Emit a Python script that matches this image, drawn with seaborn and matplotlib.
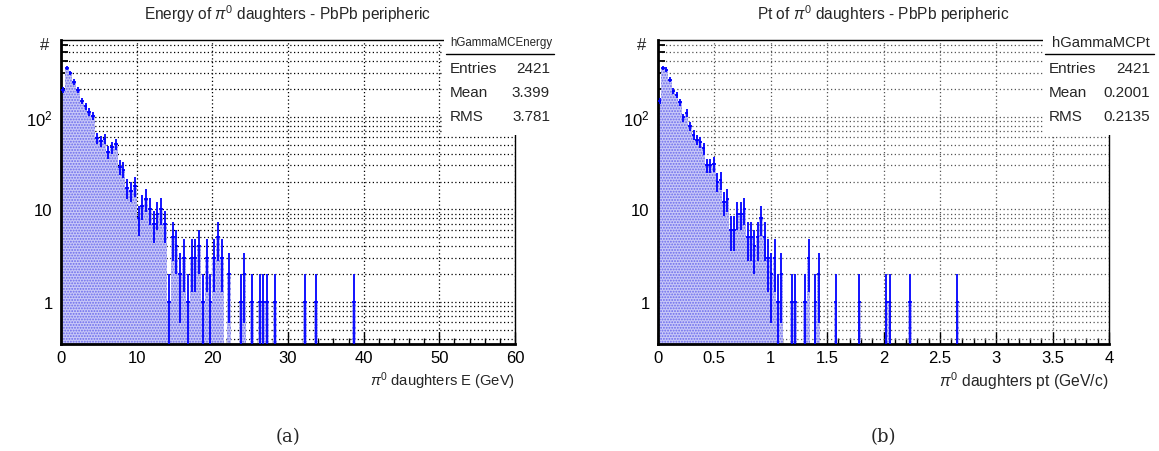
import numpy as np
import pandas as pd
import matplotlib
matplotlib.use("Agg")
import matplotlib.pyplot as plt
import seaborn as sns
from matplotlib.ticker import FixedLocator, FuncFormatter, MultipleLocator, LogLocator, NullFormatter
from matplotlib.patches import Rectangle
from matplotlib.lines import Line2D

# ---------------- data ----------------
# Panel (a): energy histogram, 0.5 GeV bins starting at 0
energy_bin_width = 0.5
energy_counts = [196, 339, 299, 239, 196, 149, 131, 113, 102, 59,
                 55, 58, 42, 47, 51, 29, 27, 17, 16, 18,
                 8, 11, 13, 10, 7, 9, 10, 7, 1, 5,
                 4, 2, 3, 1, 3, 3, 4, 1, 3, 1,
                 3, 5, 3, 0, 2, 0, 0, 1, 2, 0,
                 1, 0, 1, 1, 1, 0, 1, 0, 0, 0,
                 0, 0, 0, 0, 1, 0, 0, 1, 0, 0,
                 0, 0, 0, 0, 0, 0, 0, 1]
# Panel (b): pt histogram, 0.03 GeV/c bins starting at 0
pt_bin_width = 0.03
pt_counts = [150, 340, 325, 252, 192, 172, 145, 99, 111, 80,
             64, 57, 54, 46, 30, 30, 31, 20, 21, 12,
             13, 6, 6, 9, 9, 10, 5, 5, 4, 5,
             8, 5, 3, 2, 3, 1, 2, 0, 0, 1,
             1, 0, 0, 1, 3, 0, 1, 2, 0, 0,
             0, 0, 1, 0, 0, 0, 0, 0, 0, 1,
             0, 0, 0, 0, 0, 0, 0, 1, 1, 0,
             0, 0, 0, 0, 1, 0, 0, 0, 0, 0,
             0, 0, 0, 0, 0, 0, 0, 0, 1]

titles = [r"Energy of $\pi^{0}$ daughters - PbPb peripheric",
          r"Pt of $\pi^{0}$ daughters - PbPb peripheric"]
xlabels = [r"$\pi^{0}$ daughters E (GeV)", r"$\pi^{0}$ daughters pt (GeV/c)"]
hist_names = ["hGammaMCEnergy", "hGammaMCPt"]
stat_labels = ["Entries", "Mean", "RMS"]
stats_a = ["2421", "3.399", "3.781"]
stats_b = ["2421", "0.2001", "0.2135"]
captions = ["(a)", "(b)"]
xticks_a = [0, 10, 20, 30, 40, 50, 60]
xticks_b = [0, 0.5, 1, 1.5, 2, 2.5, 3, 3.5, 4]
yticks = [1, 10, 100]
ytick_labels = ["1", "10", r"10$^{2}$"]

# ---------------- style ----------------
sns.set_theme(style="white")
plt.rcParams['font.family'] = ['Liberation Sans', 'DejaVu Sans']
plt.rcParams['mathtext.fontset'] = 'custom'
plt.rcParams['mathtext.rm'] = 'Liberation Sans'
plt.rcParams['mathtext.it'] = 'Liberation Sans:italic'
plt.rcParams['hatch.linewidth'] = 0.9

W, H = 1159, 452
fig = plt.figure(figsize=(W / 100, H / 100), dpi=100)
fig.patch.set_facecolor("white")


def fx(px):
    return px / W


def fy(py):
    return 1 - py / H


panels = [
    dict(x0=61, x1=515, counts=energy_counts, bw=energy_bin_width, xlim=(0, 60),
         xticks=xticks_a, minor=2, stats=stats_a, box=(444, 554), gridcolor="black",
         hdrsize=8.3, xlsize=10.6),
    dict(x0=658, x1=1109, counts=pt_counts, bw=pt_bin_width, xlim=(0, 4),
         xticks=xticks_b, minor=0.1, stats=stats_b, box=(1043, 1154), gridcolor="#555555",
         hdrsize=10.6, xlsize=11.3),
]

ytop, ybot = 41, 345
for i, p in enumerate(panels):
    ax = fig.add_axes([fx(p["x0"]), fy(ybot), fx(p["x1"] - p["x0"]), (ybot - ytop) / H])
    counts = np.array(p["counts"], dtype=float)
    n = len(counts)
    edges = np.arange(n + 1) * p["bw"]
    centers = edges[:-1] + p["bw"] / 2
    df = pd.DataFrame({"x": centers, "w": counts})
    ax.set_yscale("log")
    sns.histplot(data=df, x="x", weights="w", bins=list(edges), element="step", fill=True,
                 facecolor="#c8c8f8", edgecolor="#6a6aec", linewidth=0, hatch="......",
                 alpha=1.0, ax=ax, zorder=2)
    m = counts > 0
    c = counts[m]
    err = np.sqrt(c)
    lower = np.minimum(err, c - 1e-4)
    ax.errorbar(centers[m], c, xerr=p["bw"] / 2, yerr=[lower, err], fmt="none",
                ecolor="#0000ff", elinewidth=1.3, capsize=0, zorder=4)
    ax.set_ylim(0.35, 680)
    ax.set_xlim(*p["xlim"])
    ax.set_xlabel("")
    ax.set_ylabel("")
    # axes, ticks, grid
    ax.yaxis.set_major_locator(FixedLocator(yticks))
    ax.yaxis.set_major_formatter(FuncFormatter(lambda v, pos: ytick_labels[yticks.index(round(v))] if round(v) in yticks else ""))
    ax.yaxis.set_minor_locator(LogLocator(base=10, subs=np.arange(2, 10)))
    ax.yaxis.set_minor_formatter(NullFormatter())
    ax.xaxis.set_major_locator(FixedLocator(p["xticks"]))
    ax.xaxis.set_minor_locator(MultipleLocator(p["minor"]))
    ax.xaxis.set_major_formatter(FuncFormatter(lambda v, pos: f"{v:g}"))
    ax.grid(True, which="major", axis="both", color=p["gridcolor"], linestyle=(0, (1, 2)), linewidth=0.9, zorder=1)
    ax.grid(True, which="minor", axis="y", color=p["gridcolor"], linestyle=(0, (1, 2)), linewidth=0.9, zorder=1)
    ax.set_axisbelow(True)
    ax.tick_params(axis="both", which="both", direction="in", colors="black", labelsize=12,
                   top=False, right=False, left=True, bottom=True)
    ax.tick_params(axis="y", which="major", length=10, width=1.3, pad=6)
    ax.tick_params(axis="y", which="minor", length=5, width=1.3)
    ax.tick_params(axis="x", which="major", length=9, width=1.0, pad=4)
    ax.tick_params(axis="x", which="minor", length=4, width=1.0)
    for s in ["left", "bottom"]:
        ax.spines[s].set_linewidth(2.0)
        ax.spines[s].set_color("black")
    for s in ["top", "right"]:
        ax.spines[s].set_linewidth(1.0)
        ax.spines[s].set_color("black")
    cx = (p["x0"] + p["x1"]) / 2
    fig.text(fx(cx), fy(14), titles[i], ha="center", va="center", fontsize=11.2)
    fig.text(fx(p["x1"]), fy(381), xlabels[i], ha="right", va="center", fontsize=p["xlsize"])
    fig.text(fx(p["x0"] - 16), fy(45), "#", ha="center", va="center", fontsize=12)
    fig.text(fx(cx), fy(437), captions[i], ha="center", va="center", fontsize=13,
             family="DejaVu Serif")
    # stats box
    b0, b1 = p["box"]
    fig.patches.append(Rectangle((fx(b0), fy(136)), fx(b1 - b0), (136 - 34) / H,
                                 transform=fig.transFigure, facecolor="white",
                                 edgecolor="none", zorder=5))
    fig.lines.append(Line2D([fx(b0 + 2), fx(b1)], [fy(55), fy(55)], transform=fig.transFigure,
                            color="black", linewidth=1.0, zorder=6))
    fig.text(fx((b0 + b1) / 2 + 2), fy(43), hist_names[i], ha="center", va="center",
             fontsize=p["hdrsize"], zorder=7)
    for j, (lab, val) in enumerate(zip(stat_labels, p["stats"])):
        yy = 69 + 24 * j
        fig.text(fx(b0 + 6), fy(yy), lab, ha="left", va="center", fontsize=11, zorder=7)
        fig.text(fx(b1 - 4), fy(yy), val, ha="right", va="center", fontsize=11, zorder=7)

fig.savefig("out.png", dpi=100, facecolor="white")
